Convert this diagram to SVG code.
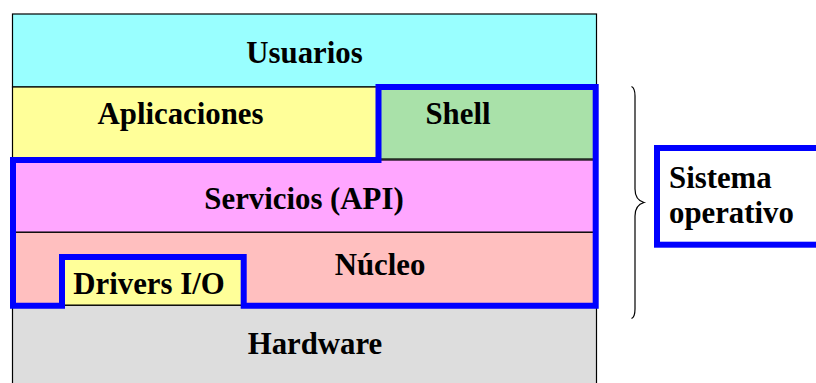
<svg xmlns="http://www.w3.org/2000/svg" width="816" height="383" viewBox="0 0 816 383">
<style>
.layer{stroke:#000;stroke-width:1.2}
.lbl{font-family:"Liberation Serif","Times New Roman",serif;font-weight:bold;font-size:30.8px;fill:#000}
.c{text-anchor:middle}
.blue{fill:none;stroke:#0000FF;stroke-width:6;stroke-linejoin:miter}
</style>
<rect width="816" height="383" fill="#fff"/>
<g id="usuarios">
<rect class="layer" x="12.5" y="14" width="584" height="73" fill="#99FFFF"/>
<text class="lbl c" x="304.5" y="63">Usuarios</text>
</g>
<g id="aplicaciones">
<rect class="layer" x="12.5" y="87" width="366" height="73" fill="#FFFF99"/>
<text class="lbl c" x="180.5" y="124">Aplicaciones</text>
</g>
<g id="shell">
<rect class="layer" x="378.5" y="87" width="218" height="72" fill="#A9E1A9"/>
<text class="lbl c" x="458" y="123.5">Shell</text>
</g>
<g id="servicios">
<rect class="layer" x="12.5" y="160" width="584" height="72.3" fill="#FFA6FF"/>
<text class="lbl c" x="304" y="209">Servicios (API)</text>
</g>
<g id="nucleo">
<rect class="layer" x="12.5" y="232.3" width="584" height="73" fill="#FFBFBF"/>
<text class="lbl c" x="380" y="274.5">Núcleo</text>
</g>
<g id="drivers">
<rect class="layer" x="62" y="257" width="181.7" height="48.3" fill="#FFFF99"/>
<text class="lbl c" x="149" y="293.5">Drivers I/O</text>
</g>
<g id="hardware">
<rect class="layer" x="12.5" y="305.3" width="584" height="90" fill="#DDDDDD"/>
<text class="lbl c" x="315" y="353.5">Hardware</text>
</g>
<g id="connectors">
<path class="blue" d="M378.5 87 H595.7 V305.7 H243.7 V257 H62 V305.7 H13 V160 H378.5 Z"/>
<path d="M631.5 86.5 Q635 88 635 96 V189 Q635 200 644 202.5 Q635 205 635 216 V309 Q635 317 631.5 318.5" fill="none" stroke="#000" stroke-width="1.2"/>
</g>
<g id="sistema-operativo">
<rect x="657" y="148" width="180" height="96.7" fill="#fff" stroke="#0000FF" stroke-width="6"/>
<text class="lbl" x="669" y="188.3">Sistema</text>
<text class="lbl" x="669" y="223">operativo</text>
</g>
</svg>
